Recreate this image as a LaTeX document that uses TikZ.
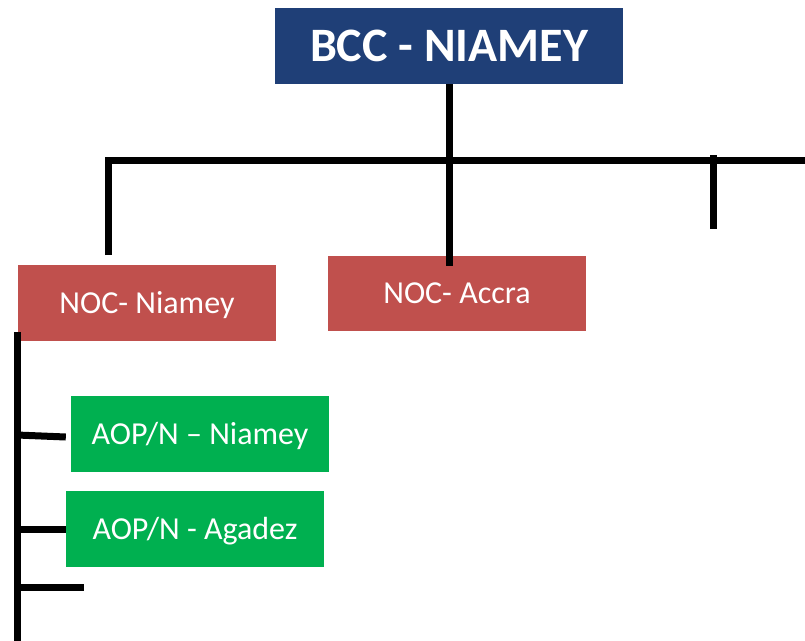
\documentclass[tikz,border=0pt]{standalone}
\usepackage{fontspec}
\setmainfont{Carlito}
\definecolor{bccblue}{RGB}{31,63,119}
\definecolor{nocred}{RGB}{192,80,77}
\definecolor{aopgreen}{RGB}{0,176,80}
\tikzset{
    box/.style={fill=#1, text=white, minimum width=258pt, minimum height=76pt, inner sep=0pt, text height=20pt, text depth=0pt, font=\fontsize{32}{36}\selectfont},
    link/.style={line width=7pt, black},
}
\begin{document}
\begin{tikzpicture}[x=1pt, y=-1pt]
    \useasboundingbox (0,0) rectangle (805,640);

    \node[box=bccblue, minimum width=348pt, text height=31pt, font=\fontsize{48}{56}\selectfont\bfseries] (bcc) at (449,46) {BCC - NIAMEY};
    \node[box=nocred] (niamey) at (147,303) {NOC- Niamey};
    \node[box=nocred, minimum height=75pt] (accra) at (457,293.5) {NOC- Accra};
    \node[box=aopgreen] (aopniamey) at (200,434) {AOP/N -- Niamey};
    \node[box=aopgreen] (agadez) at (195,529) {AOP/N - Agadez};

    \coordinate (drop) at (449,266);
    \coordinate (barleft) at (108,255);
    \coordinate (barright) at (812,160);
    \coordinate (tick) at (713,155);
    \coordinate (trunk) at (17,332);
    \coordinate (trunkend) at (17,646);
    \coordinate (stub) at (84,587);

    \draw[link] (bcc.south) -- (drop);
    \draw[link] (barleft) |- (barright);
    \draw[link] (tick) -- ++(0,74);

    \draw[link] (trunk) -- (trunkend);
    \draw[link] (17,435) -- ([xshift=-5pt, yshift=-3pt]aopniamey.west);
    \draw[link] (trunk |- agadez.west) -- (agadez.west);
    \draw[link] (trunk |- stub) -- (stub);
\end{tikzpicture}
\end{document}
